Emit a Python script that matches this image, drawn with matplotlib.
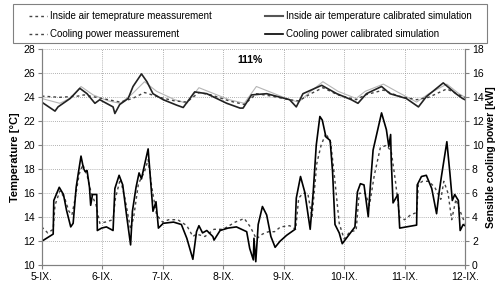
import matplotlib
matplotlib.use("Agg")
import matplotlib.pyplot as plt
from matplotlib.patches import Rectangle

plt.rcParams['font.family'] = ['Liberation Sans', 'DejaVu Sans']

day_labels = ["5-IX.", "6-IX.", "7-IX.", "8-IX.", "9-IX.", "10-IX.", "11-IX.", "12-IX."]

# Inside air temperature (°C) -- calibrated simulation (black solid)
temp_sim_t = [0, 0.22, 0.27, 0.47, 0.63, 0.75, 0.88, 0.96, 1.18, 1.21, 1.29, 1.43, 1.51, 1.65, 1.74, 1.84,
              2.01, 2.23, 2.34, 2.45, 2.53, 2.73, 3.06, 3.28, 3.33, 3.47, 3.72, 4.1, 4.21, 4.32, 4.63, 4.88,
              5.12, 5.23, 5.37, 5.62, 5.76, 6.03, 6.23, 6.36, 6.64, 6.85, 6.96, 7.0]
temp_sim_v = [23.6, 22.85, 23.2, 23.9, 24.75, 24.3, 23.5, 23.8, 23.2, 22.65, 23.4, 23.9, 24.9, 25.95, 25.3, 24.3,
              23.8, 23.35, 23.15, 23.9, 24.45, 24.3, 23.5, 23.1, 23.1, 24.2, 24.3, 23.8, 23.2, 24.3, 25.0, 24.3,
              23.8, 23.5, 24.3, 24.9, 24.3, 23.9, 23.2, 24.05, 25.2, 24.3, 23.9, 23.8]

# Inside air temperature measurement (dark dashed)
temp_meas_t = [0, 0.3, 0.6, 0.7, 1.0, 1.3, 1.5, 1.7, 1.95, 2.2, 2.4, 2.6, 2.8, 3.1, 3.35, 3.55, 3.8, 4.1,
               4.25, 4.45, 4.65, 4.9, 5.2, 5.35, 5.65, 5.9, 6.2, 6.4, 6.7, 6.9, 7.0]
temp_meas_v = [24.1, 24.0, 24.1, 24.2, 23.9, 23.6, 23.9, 24.4, 24.0, 23.7, 23.6, 24.4, 24.2, 23.7, 23.4, 24.3,
               24.1, 23.8, 23.7, 24.3, 24.8, 24.2, 23.8, 24.2, 24.6, 24.1, 23.8, 24.0, 24.7, 24.2, 24.0]

# Additional light grey temperature trace
temp_alt_t = [0, 0.3, 0.5, 0.65, 0.85, 1.1, 1.3, 1.5, 1.7, 1.9, 2.2, 2.4, 2.6, 2.8, 3.1, 3.35, 3.55, 3.8,
              4.1, 4.25, 4.45, 4.65, 4.9, 5.2, 5.35, 5.65, 5.9, 6.2, 6.4, 6.7, 6.9, 7.0]
temp_alt_v = [23.9, 23.5, 24.0, 24.9, 24.2, 23.7, 23.5, 24.3, 25.3, 24.5, 23.8, 23.5, 24.8, 24.4, 23.8, 23.5,
              24.9, 24.4, 23.8, 23.6, 24.5, 25.3, 24.5, 23.9, 24.5, 25.1, 24.4, 23.6, 24.3, 25.1, 24.3, 24.0]

# Sensible cooling power (kW) -- calibrated simulation (black solid)
pow_sim_t = [0, 0.19, 0.2, 0.29, 0.36, 0.41, 0.48, 0.52, 0.57, 0.6, 0.65, 0.69, 0.72, 0.75, 0.79, 0.81, 0.84,
             0.91, 0.92, 0.99, 1.07, 1.18, 1.21, 1.28, 1.34, 1.40, 1.47, 1.50, 1.56, 1.61, 1.65, 1.68, 1.76,
             1.84, 1.89, 1.93, 2.01, 2.18, 2.31, 2.40, 2.50, 2.56, 2.60, 2.66, 2.73, 2.83, 2.85, 2.95, 3.08,
             3.22, 3.39, 3.44, 3.50, 3.51, 3.54, 3.58, 3.65, 3.72, 3.79, 3.86, 3.94, 4.05, 4.19, 4.21, 4.28,
             4.35, 4.44, 4.49, 4.54, 4.60, 4.64, 4.70, 4.77, 4.81, 4.85, 4.92, 4.97, 5.18, 5.22, 5.27, 5.33,
             5.40, 5.43, 5.48, 5.62, 5.70, 5.74, 5.77, 5.78, 5.81, 5.89, 5.92, 6.03, 6.20, 6.21, 6.28, 6.36,
             6.45, 6.53, 6.57, 6.61, 6.70, 6.75, 6.79, 6.83, 6.89, 6.92, 6.97, 7.0]
pow_sim_v = [2.0, 2.6, 5.4, 6.5, 5.9, 4.6, 3.2, 3.5, 6.5, 7.5, 9.1, 8.1, 7.8, 7.9, 6.5, 5.0, 5.9,
             5.9, 2.9, 3.1, 3.2, 2.9, 6.4, 7.5, 6.7, 4.3, 1.7, 4.5, 6.5, 7.7, 7.2, 7.9, 9.7,
             4.5, 5.3, 3.1, 3.5, 3.6, 3.4, 2.25, 0.5, 2.8, 3.3, 2.7, 2.9, 2.4, 2.1, 2.9, 3.1,
             3.2, 2.8, 1.4, 0.45, 2.25, 0.3, 3.4, 4.9, 4.2, 2.4, 1.5, 2.0, 2.5, 3.0, 5.6, 7.4,
             6.1, 3.0, 6.1, 10.0, 12.4, 12.1, 10.7, 10.4, 7.8, 3.4, 2.7, 1.8, 3.2, 6.1, 6.8, 6.7,
             4.05, 6.3, 9.6, 12.7, 11.3, 9.9, 10.9, 8.8, 5.2, 5.9, 3.1, 3.2, 3.35, 6.7, 7.4, 7.5,
             6.4, 4.3, 6.0, 7.4, 10.3, 7.7, 5.4, 5.9, 5.4, 2.9, 3.4, 3.3]

# Sensible cooling power (kW) -- measurement (dashed)
pow_meas_t = [0, 0.1, 0.19, 0.22, 0.3, 0.38, 0.45, 0.5, 0.55, 0.62, 0.68, 0.75, 0.82, 0.9, 0.96, 1.05,
              1.18, 1.22, 1.3, 1.38, 1.47, 1.52, 1.6, 1.7, 1.76, 1.82, 1.9, 2.0, 2.1, 2.25, 2.4, 2.5,
              2.56, 2.7, 2.85, 3.0, 3.2, 3.35, 3.45, 3.55, 3.65, 3.75, 3.85, 3.95, 4.1, 4.2, 4.25, 4.32,
              4.4, 4.47, 4.55, 4.62, 4.7, 4.78, 4.85, 4.92, 5.0, 5.1, 5.2, 5.25, 5.35, 5.42, 5.5, 5.6,
              5.7, 5.78, 5.85, 5.92, 6.0, 6.1, 6.2, 6.23, 6.3, 6.4, 6.5, 6.6, 6.65, 6.72, 6.78, 6.85,
              6.92, 7.0]
pow_meas_v = [3.2, 2.7, 3.0, 5.0, 6.2, 5.6, 4.5, 4.2, 5.5, 7.6, 8.4, 7.5, 6.0, 5.0, 3.5, 3.6,
              3.8, 5.6, 7.2, 5.5, 3.0, 4.0, 6.8, 7.8, 8.8, 6.5, 4.2, 3.6, 3.8, 3.8, 3.3, 2.4,
              2.6, 2.4, 3.0, 3.0, 3.6, 3.9, 3.2, 2.2, 2.6, 2.8, 2.8, 3.2, 3.3, 3.0, 5.6, 6.0,
              6.0, 4.0, 8.5, 10.0, 11.0, 10.2, 7.0, 3.5, 2.2, 2.8, 2.9, 6.0, 6.0, 5.0, 7.5, 9.8,
              10.0, 9.5, 7.0, 4.0, 3.8, 4.2, 4.4, 6.8, 7.0, 7.0, 6.5, 5.5, 7.0, 6.0, 3.8, 5.5,
              4.5, 3.5]

legend_labels = ["Inside air temeprature meassurement",
                 "Inside air temperature calibrated simulation",
                 "Cooling power meassurement",
                 "Cooling power calibrated simulation"]

W, H = 497, 288
fig = plt.figure(figsize=(W / 100, H / 100), dpi=100)
ax = fig.add_axes([41.7 / W, 1 - 265.3 / H, (465 - 41.7) / W, (265.3 - 49.3) / H])
ax2 = ax.twinx()

grid_kw = dict(color='#999999', linestyle=(0, (1, 1.5)), linewidth=0.6)
ax.grid(True, **grid_kw)
ax.set_axisbelow(True)

meas_style = dict(color='#444444', linestyle=(0, (2, 2.2)), linewidth=1.0)

ax.plot(temp_alt_t, temp_alt_v, color='#b5b5b5', linewidth=0.8)
l1, = ax.plot(temp_meas_t, temp_meas_v, **meas_style)
l2, = ax.plot(temp_sim_t, temp_sim_v, color='#222222', linewidth=1.2)

l3, = ax2.plot(pow_meas_t, pow_meas_v, **meas_style)
l4, = ax2.plot(pow_sim_t, pow_sim_v, color='black', linewidth=1.2)

ax.set_xlim(0, 7)
ax.set_ylim(10, 28)
ax2.set_ylim(0, 18)
ax.set_xticks(range(8))
ax.set_xticklabels(day_labels)
ax.set_yticks(range(10, 29, 2))
ax2.set_yticks(range(0, 19, 2))

for a in (ax, ax2):
    a.spines['top'].set_visible(False)
    for s in ('left', 'right', 'bottom'):
        a.spines[s].set_color('#808080')
        a.spines[s].set_linewidth(0.8)
    a.tick_params(labelsize=7.5, colors='#808080', labelcolor='black', length=3, width=0.8, pad=2)

ax.set_ylabel("Temperature [°C]", fontsize=8, fontweight='bold', labelpad=2)
ax2.set_ylabel("Sensible cooling power [kW]", fontsize=7.5, fontweight='bold', labelpad=2)

fig.text(250 / W, 1 - 60 / H, "111%", fontsize=7.5, fontweight='bold', ha='center', va='center')

# legend frame
fig.patches.append(Rectangle((13 / W, 1 - 43 / H), 474 / W, 39 / H, transform=fig.transFigure,
                             fill=False, edgecolor='#808080', linewidth=0.8))

leg = fig.legend([l1, l3, l2, l4],
                 [legend_labels[0], legend_labels[2], legend_labels[1], legend_labels[3]],
                 loc='upper left', bbox_to_anchor=(29 / W, 1 - 11 / H),
                 ncol=2, fontsize=7, frameon=False, borderpad=0,
                 handlelength=1.8, handletextpad=0.35, borderaxespad=0, labelspacing=0.85,
                 columnspacing=5.5)
leg.get_lines()[2].set_color('#555555')
leg.get_lines()[2].set_linewidth(1.5)

fig.savefig("out.png", dpi=100)
